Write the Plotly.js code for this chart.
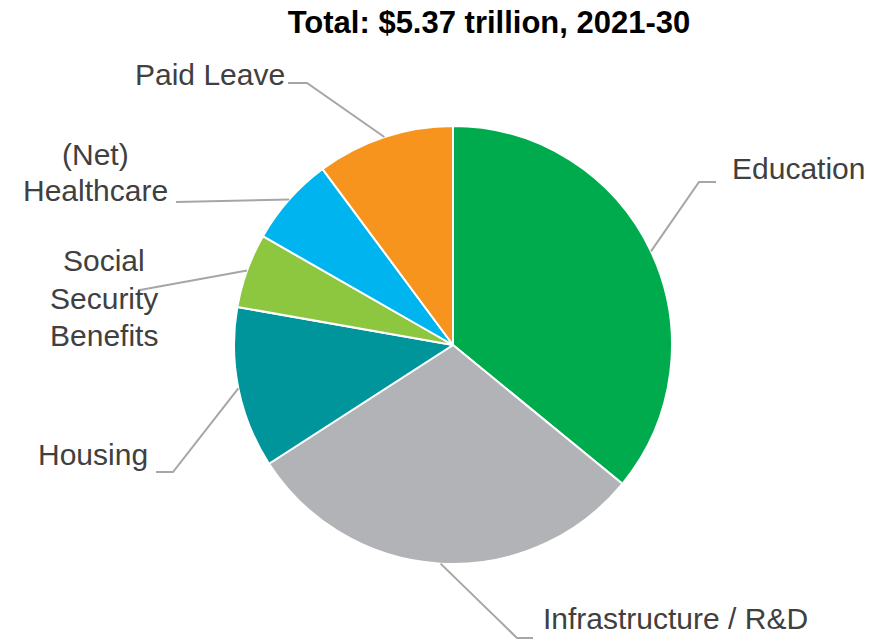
<!DOCTYPE html>
<html><head><meta charset="utf-8">
<script src="https://cdn.plot.ly/plotly-3.0.1.min.js"></script>
<style>html,body{margin:0;padding:0;background:#fff}</style>
</head><body><div id="chart" style="width:881px;height:639px"></div>
<script>
// Data ($ billions, 2021-30)
const categories = ['Education', 'Infrastructure / R&D', 'Housing', 'Social Security Benefits', '(Net) Healthcare', 'Paid Leave'];
const labelLines = [['Education'], ['Infrastructure / R&D'], ['Housing'], ['Social', 'Security', 'Benefits'], ['(Net)', 'Healthcare'], ['Paid Leave']];
const values = [1929, 1608, 639, 295, 353, 545];
const colors = ['#00AB4E', '#B1B3B6', '#00959A', '#8DC63F', '#00B4EF', '#F7941E'];
const titleText = '<b>Total: $5.37 trillion, 2021-30</b>';

// Layout geometry (pixels)
const W = 881, H = 639, CX = 453, CY = 345, R = 219;
const labelPos = [
  {elbow: [699, 182], end: [716, 182], tx: 730, ty: [168], anchor: 'left'},
  {elbow: [517, 638], end: [533, 638], tx: 541, ty: [618], anchor: 'left'},
  {elbow: [173, 472], end: [156, 472], tx: 150, ty: [454], anchor: 'right'},
  {elbow: null, end: [140, 290], tx: 104, ty: [260, 298, 335], anchor: 'center'},
  {elbow: null, end: [176, 202], tx: 95, ty: [155, 190], anchor: 'center'},
  {elbow: [307, 83], end: [288, 83], tx: 287, ty: [74], anchor: 'right'}
];
const px = x => x / W, py = y => 1 - y / H;

const total = values.reduce((a, b) => a + b, 0);
const shapes = [], annotations = [];
let cum = 0;
values.forEach((v, i) => {
  const mid = (cum + v / 2) / total * 2 * Math.PI;
  cum += v;
  const sx = CX + R * Math.sin(mid), sy = CY - R * Math.cos(mid);
  const L = labelPos[i];
  let path = `M ${px(sx)},${py(sy)}`;
  if (L.elbow) path += ` L ${px(L.elbow[0])},${py(L.elbow[1])}`;
  path += ` L ${px(L.end[0])},${py(L.end[1])}`;
  shapes.push({type: 'path', xref: 'paper', yref: 'paper', path: path,
    line: {color: '#A6A6A6', width: 2}, layer: 'above'});
  labelLines[i].forEach((t, k) => {
    annotations.push({text: t, xref: 'paper', yref: 'paper', x: px(L.tx), y: py(L.ty[k]),
      xanchor: L.anchor, yanchor: 'middle', showarrow: false,
      font: {family: 'Liberation Sans, Arial, sans-serif', size: 30, color: '#404040'}});
  });
});

const trace = {
  type: 'pie', values: values, labels: categories, sort: false, direction: 'clockwise', rotation: 0,
  marker: {colors: colors, line: {color: '#FFFFFF', width: 2}},
  textinfo: 'none', hoverinfo: 'label+value+percent',
  domain: {x: [(CX - R) / W, (CX + R) / W], y: [(H - CY - R) / H, (H - CY + R) / H]}
};

const layout = {
  width: W, height: H, margin: {l: 0, r: 0, t: 0, b: 0},
  paper_bgcolor: '#FFFFFF', showlegend: false,
  title: {text: titleText, x: 489 / W, xanchor: 'center', y: 1 - 22 / H, yanchor: 'middle',
    font: {family: 'Liberation Sans, Arial, sans-serif', size: 31, color: '#000000'}},
  shapes: shapes, annotations: annotations
};
Plotly.newPlot('chart', [trace], layout, {displayModeBar: false, staticPlot: true});
</script></body></html>
